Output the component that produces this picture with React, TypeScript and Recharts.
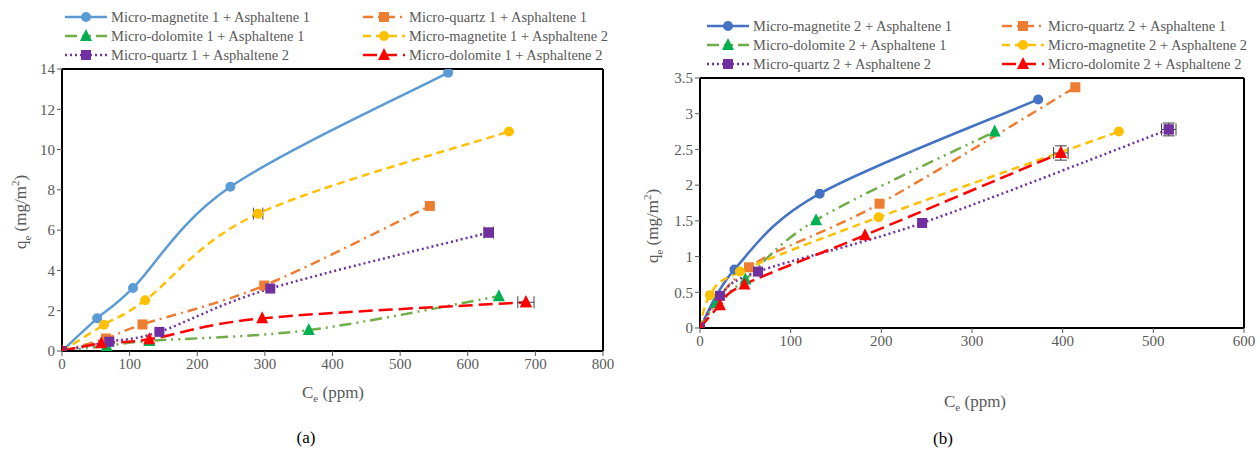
import React from 'react';
import { ComposedChart, Line, Scatter, XAxis, YAxis, ReferenceLine, ErrorBar } from 'recharts';

// ---- panel (a): Ce (ppm) and qe (mg/m2) ----
const ceMag1A1 = [0, 52, 105, 249, 571];
const qeMag1A1 = [0, 1.62, 3.13, 8.15, 13.82];
const ceQtz1A1 = [0, 65, 119, 299, 544];
const qeQtz1A1 = [0, 0.62, 1.32, 3.25, 7.2];
const ceDol1A1 = [0, 66, 129, 365, 646];
const qeDol1A1 = [0, 0.25, 0.5, 1.04, 2.72];
const ceMag1A2 = [0, 62, 123, 290, 661];
const qeMag1A2 = [0, 1.3, 2.52, 6.82, 10.9];
const ceQtz1A2 = [0, 70, 144, 308, 631];
const qeQtz1A2 = [0, 0.46, 0.95, 3.1, 5.88];
const ceDol1A2 = [0, 58, 129, 296, 686];
const qeDol1A2 = [0, 0.38, 0.58, 1.62, 2.42];
const errCeMag1A2 = [null, null, null, 7, null];
const errCeQtz1A2 = [null, null, null, null, 7];
const errCeDol1A2 = [null, null, null, null, 12];

// ---- panel (b) ----
const ceMag2A1 = [0, 38, 132, 373];
const qeMag2A1 = [0, 0.82, 1.88, 3.2];
const ceQtz2A1 = [0, 54, 198, 414];
const qeQtz2A1 = [0, 0.85, 1.74, 3.37];
const ceDol2A1 = [0, 18, 50, 128, 325];
const qeDol2A1 = [0, 0.35, 0.68, 1.51, 2.75];
const ceMag2A2 = [0, 11, 44, 197, 462];
const qeMag2A2 = [0, 0.46, 0.79, 1.55, 2.75];
const ceQtz2A2 = [0, 22, 64, 245, 517];
const qeQtz2A2 = [0, 0.45, 0.79, 1.47, 2.78];
const errCeQtz2A2 = [null, null, null, null, 8];
const errQeQtz2A2 = [null, null, null, null, 0.09];
const ceDol2A2 = [0, 22, 49, 182, 398];
const qeDol2A2 = [0, 0.32, 0.61, 1.3, 2.45];
const errCeDol2A2 = [null, null, null, null, 8];
const errQeDol2A2 = [null, null, null, null, 0.1];

const xTicksA = [0, 100, 200, 300, 400, 500, 600, 700, 800];
const yTicksA = [0, 2, 4, 6, 8, 10, 12, 14];
const xTicksB = [0, 100, 200, 300, 400, 500, 600];
const yTicksB = [0, 0.5, 1, 1.5, 2, 2.5, 3, 3.5];

const FONT = "'Liberation Serif', 'Times New Roman', Times, 'DejaVu Serif', serif";
const GREY = '#595959';

type Shape = 'circle' | 'square' | 'triangle';

interface SeriesDef {
  name: string;
  xs: number[];
  ys: number[];
  ex?: (number | null)[];
  ey?: (number | null)[];
  stroke: string;
  fill: string;
  dash?: string;
  shape: Shape;
}

const toPoints = (s: SeriesDef) =>
  s.xs.map((x, i) => ({
    x,
    y: s.ys[i],
    ex: s.ex ? s.ex[i] ?? undefined : undefined,
    ey: s.ey ? s.ey[i] ?? undefined : undefined,
  }));

// Excel-style smoothed line (Catmull-Rom through the points), as a d3 curve factory
function excelSmooth(context: any) {
  let pts: [number, number][] = [];
  return {
    areaStart() {},
    areaEnd() {},
    lineStart() {
      pts = [];
    },
    point(x: number, y: number) {
      pts.push([+x, +y]);
    },
    lineEnd() {
      if (!pts.length) return;
      context.moveTo(pts[0][0], pts[0][1]);
      for (let i = 0; i < pts.length - 1; i++) {
        const p0 = pts[i - 1] || pts[i];
        const p1 = pts[i];
        const p2 = pts[i + 1];
        const p3 = pts[i + 2] || p2;
        context.bezierCurveTo(
          p1[0] + (p2[0] - p0[0]) / 6,
          p1[1] + (p2[1] - p0[1]) / 6,
          p2[0] - (p3[0] - p1[0]) / 6,
          p2[1] - (p3[1] - p1[1]) / 6,
          p2[0],
          p2[1],
        );
      }
    },
  };
}

const seriesA: SeriesDef[] = [
  { name: 'Micro-magnetite 1 + Asphaltene 1', xs: ceMag1A1, ys: qeMag1A1, stroke: '#5B9BD5', fill: '#5B9BD5', shape: 'circle' },
  { name: 'Micro-quartz 1 + Asphaltene 1', xs: ceQtz1A1, ys: qeQtz1A1, stroke: '#ED7D31', fill: '#ED7D31', dash: '10 5 2 5', shape: 'square' },
  { name: 'Micro-dolomite 1 + Asphaltene 1', xs: ceDol1A1, ys: qeDol1A1, stroke: '#70AD47', fill: '#00B050', dash: '12 5 2 5 2 5', shape: 'triangle' },
  { name: 'Micro-magnetite 1 + Asphaltene 2', xs: ceMag1A2, ys: qeMag1A2, ex: errCeMag1A2, stroke: '#FFC000', fill: '#FFC000', dash: '8 5', shape: 'circle' },
  { name: 'Micro-quartz 1 + Asphaltene 2', xs: ceQtz1A2, ys: qeQtz1A2, ex: errCeQtz1A2, stroke: '#7030A0', fill: '#7030A0', dash: '2 3', shape: 'square' },
  { name: 'Micro-dolomite 1 + Asphaltene 2', xs: ceDol1A2, ys: qeDol1A2, ex: errCeDol1A2, stroke: '#FF0000', fill: '#FF0000', dash: '14 6', shape: 'triangle' },
];

const seriesB: SeriesDef[] = [
  { name: 'Micro-magnetite 2 + Asphaltene 1', xs: ceMag2A1, ys: qeMag2A1, stroke: '#4472C4', fill: '#4472C4', shape: 'circle' },
  { name: 'Micro-quartz 2 + Asphaltene 1', xs: ceQtz2A1, ys: qeQtz2A1, stroke: '#ED7D31', fill: '#ED7D31', dash: '10 5 2 5', shape: 'square' },
  { name: 'Micro-dolomite 2 + Asphaltene 1', xs: ceDol2A1, ys: qeDol2A1, stroke: '#70AD47', fill: '#00B050', dash: '12 5 2 5 2 5', shape: 'triangle' },
  { name: 'Micro-magnetite 2 + Asphaltene 2', xs: ceMag2A2, ys: qeMag2A2, stroke: '#FFC000', fill: '#FFC000', dash: '8 5', shape: 'circle' },
  { name: 'Micro-quartz 2 + Asphaltene 2', xs: ceQtz2A2, ys: qeQtz2A2, ex: errCeQtz2A2, ey: errQeQtz2A2, stroke: '#7030A0', fill: '#7030A0', dash: '2 3', shape: 'square' },
  { name: 'Micro-dolomite 2 + Asphaltene 2', xs: ceDol2A2, ys: qeDol2A2, ex: errCeDol2A2, ey: errQeDol2A2, stroke: '#FF0000', fill: '#FF0000', dash: '14 6', shape: 'triangle' },
];

function Marker({ cx, cy, shape, color }: { cx: number; cy: number; shape: Shape; color: string }) {
  if (cx == null || cy == null) return null;
  if (shape === 'circle') return <circle cx={cx} cy={cy} r={5} fill={color} />;
  if (shape === 'square') return <rect x={cx - 5} y={cy - 5} width={10} height={10} fill={color} />;
  return <polygon points={`${cx},${cy - 7} ${cx - 6},${cy + 5} ${cx + 6},${cy + 5}`} fill={color} />;
}

function LegendSample({ s }: { s: SeriesDef }) {
  return (
    <svg width={44} height={14} style={{ display: 'block', flex: 'none' }}>
      <line x1={1} y1={7} x2={43} y2={7} stroke={s.stroke} strokeWidth={2.5} strokeDasharray={s.dash} />
      <Marker cx={22} cy={7} shape={s.shape} color={s.fill} />
    </svg>
  );
}

function LegendBlock({ series, left, top, col2 }: { series: SeriesDef[]; left: number; top: number; col2: number }) {
  return (
    <>
      {series.map((s, i) => (
        <div
          key={s.name}
          style={{
            position: 'absolute',
            left: i % 2 === 0 ? left : col2,
            top: top + Math.floor(i / 2) * 19,
            display: 'flex',
            alignItems: 'center',
            gap: 3,
            fontFamily: FONT,
            fontSize: 14.5,
            color: GREY,
            whiteSpace: 'nowrap',
            lineHeight: '14px',
          }}
        >
          <LegendSample s={s} />
          <span>{s.name}</span>
        </div>
      ))}
    </>
  );
}

function Panel({
  series,
  xMax,
  yMax,
  xTicks,
  yTicks,
  margin,
}: {
  series: SeriesDef[];
  xMax: number;
  yMax: number;
  xTicks: number[];
  yTicks: number[];
  margin: { top: number; right: number; left: number; bottom: number };
}) {
  const tick = { fill: GREY, fontSize: 15, fontFamily: FONT };
  return (
    <ComposedChart width={630} height={449} margin={margin}>
      <XAxis
        type="number"
        dataKey="x"
        domain={[0, xMax]}
        ticks={xTicks}
        allowDataOverflow
        tick={tick}
        tickSize={5}
        tickLine={{ stroke: GREY }}
        axisLine={{ stroke: '#000', strokeWidth: 2 }}
        height={30}
      />
      <YAxis
        type="number"
        domain={[0, yMax]}
        ticks={yTicks}
        allowDataOverflow
        tick={tick}
        tickSize={5}
        tickLine={{ stroke: GREY }}
        axisLine={{ stroke: '#000', strokeWidth: 2 }}
        width={40}
      />
      <ReferenceLine y={yMax} stroke="#000" strokeWidth={2} />
      <ReferenceLine x={xMax} stroke="#000" strokeWidth={2} />
      {series.map((s) => (
        <Line
          key={s.name}
          data={toPoints(s)}
          dataKey="y"
          name={s.name}
          type={excelSmooth as any}
          stroke={s.stroke}
          strokeWidth={2.5}
          strokeDasharray={s.dash}
          isAnimationActive={false}
          dot={(p: any) => <Marker key={`${s.name}-${p.index}`} cx={p.cx} cy={p.cy} shape={s.shape} color={s.fill} />}
          activeDot={false}
        />
      ))}
      {series
        .filter((s) => s.ex || s.ey)
        .map((s) => (
          <Scatter
            key={`err-${s.name}`}
            data={toPoints(s).filter((d) => d.ex != null || d.ey != null)}
            dataKey="y"
            isAnimationActive={false}
            shape={(p: any) => <Marker cx={p.cx} cy={p.cy} shape={s.shape} color={s.fill} />}
          >
            {s.ex && <ErrorBar dataKey="ex" direction="x" width={6} stroke="#404040" strokeWidth={1} />}
            {s.ey && <ErrorBar dataKey="ey" direction="y" width={6} stroke="#404040" strokeWidth={1} />}
          </Scatter>
        ))}
    </ComposedChart>
  );
}

const textStyle: React.CSSProperties = {
  position: 'absolute',
  fontFamily: FONT,
  color: GREY,
  whiteSpace: 'nowrap',
};

function XTitle({ cx, top }: { cx: number; top: number }) {
  return (
    <div style={{ ...textStyle, left: cx, top, transform: 'translateX(-50%)', fontSize: 17 }}>
      C<sub style={{ fontSize: 11 }}>e</sub> (ppm)
    </div>
  );
}

function YTitle({ cx, cy }: { cx: number; cy: number }) {
  return (
    <div
      style={{
        ...textStyle,
        left: cx,
        top: cy,
        transform: 'translate(-50%, -50%) rotate(-90deg)',
        fontSize: 17,
      }}
    >
      q<sub style={{ fontSize: 11 }}>e</sub> (mg/m<sup style={{ fontSize: 11 }}>2</sup>)
    </div>
  );
}

export default function App() {
  return (
    <div style={{ position: 'absolute', left: 0, top: 0, width: 1260, height: 449, background: '#fff', overflow: 'hidden' }}>
      <div style={{ position: 'absolute', left: 0, top: 0 }}>
        <Panel
          series={seriesA}
          xMax={800}
          yMax={14}
          xTicks={xTicksA}
          yTicks={yTicksA}
          margin={{ top: 69, right: 27, left: 22, bottom: 68 }}
        />
      </div>
      <div style={{ position: 'absolute', left: 630, top: 0 }}>
        <Panel
          series={seriesB}
          xMax={600}
          yMax={3.5}
          xTicks={xTicksB}
          yTicks={yTicksB}
          margin={{ top: 78, right: 16, left: 30, bottom: 91 }}
        />
      </div>
      <LegendBlock series={seriesA} left={64} top={10} col2={362} />
      <LegendBlock series={seriesB} left={706} top={19} col2={1001} />
      <XTitle cx={333} top={383} />
      <XTitle cx={975} top={392} />
      <YTitle cx={21} cy={212} />
      <YTitle cx={653} cy={226} />
      <div style={{ ...textStyle, left: 306, top: 438, transform: 'translate(-50%, -50%)', fontSize: 17, color: '#000' }}>(a)</div>
      <div style={{ ...textStyle, left: 943, top: 439, transform: 'translate(-50%, -50%)', fontSize: 17, color: '#000' }}>(b)</div>
    </div>
  );
}
